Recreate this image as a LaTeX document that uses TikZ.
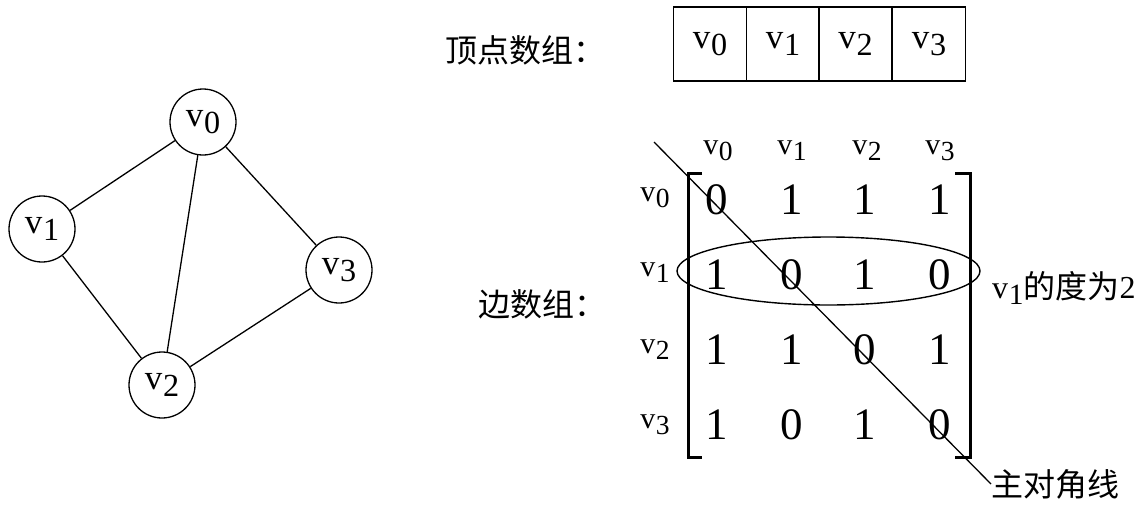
\documentclass[tikz,border=0pt]{standalone}
\usepackage{fontspec}
\setmainfont{Liberation Serif}
\newfontfamily\cjk{Noto Sans CJK SC}
\usetikzlibrary{shapes.geometric}
\newcommand\vsub[1]{v\kern0.02em\raisebox{-0.2em}{\scalebox{0.92}{#1}}}
\tikzset{
  vert/.style={circle,draw,line width=1.3pt,minimum size=66pt,inner sep=0pt,font=\fontsize{35}{35}\selectfont},
  edge/.style={line width=1.3pt},
  cell/.style={draw,line width=1.5pt,minimum width=73pt,minimum height=74pt,inner sep=0pt,font=\fontsize{35}{35}\selectfont},
  entry/.style={inner sep=0pt,font=\fontsize{45}{45}\selectfont},
  lab/.style={inner sep=0pt,font=\fontsize{30}{30}\selectfont},
  cjklab/.style={inner sep=0pt,anchor=west,font=\fontsize{32}{32}\selectfont\cjk},
  bracket/.style={line width=3pt},
}
\begin{document}
\begin{tikzpicture}[x=1pt,y=-1pt]
\useasboundingbox (0,0) rectangle (1145,509);
% graph
\node[vert] (g0) at (203,122) {\vsub{0}};
\node[vert] (g1) at (42,229) {\vsub{1}};
\node[vert] (g2) at (162,385) {\vsub{2}};
\node[vert] (g3) at (339,270) {\vsub{3}};
\draw[edge] (g0) -- (g1);
\draw[edge] (g0) -- (g2);
\draw[edge] (g0) -- (g3);
\draw[edge] (g1) -- (g2);
\draw[edge] (g2) -- (g3);
% vertex array
\node[cjklab] (vlab) at (445,50) {顶点数组：};
\node[cell] (c0) at (710,44) {\vsub{0}};
\node[cell] (c1) at (783,44) {\vsub{1}};
\node[cell] (c2) at (855.5,44) {\vsub{2}};
\node[cell] (c3) at (929,44) {\vsub{3}};
% edge array
\node[cjklab] (elab) at (478,304) {边数组：};
\foreach \j/\x in {0/718,1/792,2/867,3/940}{
  \node[lab] (col\j) at (\x,151) {\vsub{\j}};
}
\foreach \i/\y in {0/198,1/273,2/350,3/425}{
  \node[lab] (row\i) at (655,\y) {\vsub{\i}};
}
\foreach \i/\y/\a/\b/\c/\d in {0/200/0/1/1/1,1/275/1/0/1/0,2/350/1/1/0/1,3/425/1/0/1/0}{
  \node[entry] (m\i0) at (717,\y) {\a};
  \node[entry] (m\i1) at (792,\y) {\b};
  \node[entry] (m\i2) at (865,\y) {\c};
  \node[entry] (m\i3) at (940,\y) {\d};
}
\draw[bracket] (702,173) -- (688,173) -- (688,457) -- (702,457);
\draw[bracket] (955,173) -- (970,173) -- (970,457) -- (955,457);
% ellipse around row v1
\node[ellipse,draw,line width=1.4pt,minimum width=303pt,minimum height=68pt,inner sep=0pt] (ring) at (828.5,271) {};
\node[cjklab] (deg) at (992,288) {\fontsize{32}{32}\selectfont\rmfamily\vsub{1}{\cjk 的度为}2};
% main diagonal
\node[cjklab] (diag) at (991,484) {主对角线};
\coordinate (dstart) at (654,142);
\draw[edge] (dstart) -- (diag.west);
\end{tikzpicture}
\end{document}
